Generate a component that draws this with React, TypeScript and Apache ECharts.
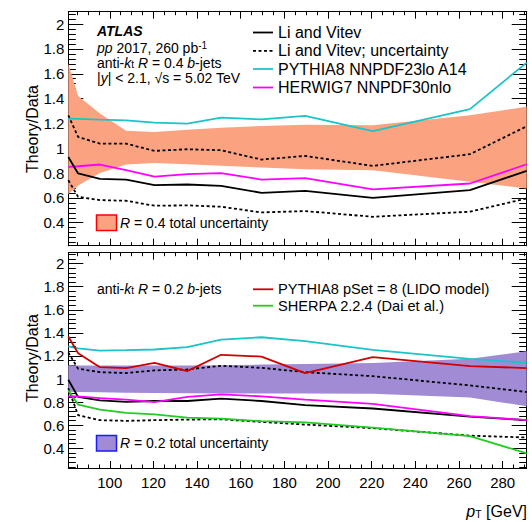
import React, { useEffect, useRef } from 'react';
import * as echarts from 'echarts';

// pT positions of the model points (GeV)
const ptPoints = [81, 85.5, 95.5, 107.5, 120.5, 135.5, 151, 169.5, 189.5, 220.5, 265, 291];

// ---- R = 0.4 panel ----
const liVitevR04 = [0.93, 0.797, 0.754, 0.748, 0.703, 0.708, 0.697, 0.641, 0.657, 0.601, 0.663, 0.818];
const liVitevUpR04 = [1.265, 1.091, 1.037, 1.037, 0.979, 0.992, 0.984, 0.909, 0.938, 0.858, 0.952, 1.177];
const liVitevLoR04 = [0.743, 0.609, 0.582, 0.577, 0.537, 0.54, 0.529, 0.483, 0.494, 0.448, 0.489, 0.596];
const pythiaR04 = [1.238, 1.236, 1.23, 1.225, 1.206, 1.198, 1.246, 1.233, 1.26, 1.137, 1.315, 1.69];
const herwigR04 = [0.85, 0.855, 0.869, 0.823, 0.772, 0.791, 0.799, 0.748, 0.759, 0.668, 0.716, 0.871];
const bandUpR04 = [1.68, 1.42, 1.28, 1.14, 1.13, 1.15, 1.165, 1.18, 1.19, 1.185, 1.265, 1.335];
const bandLoR04 = [0.63, 0.7, 0.8, 0.87, 0.882, 0.872, 0.86, 0.845, 0.83, 0.823, 0.73, 0.676];

// ---- R = 0.2 panel ----
const liVitevR02 = [0.994, 0.845, 0.816, 0.802, 0.81, 0.81, 0.83, 0.81, 0.775, 0.745, 0.675, 0.644];
const liVitevUpR02 = [1.23, 1.089, 1.06, 1.052, 1.075, 1.083, 1.115, 1.097, 1.06, 1.025, 0.945, 0.888];
const liVitevLoR02 = [0.92, 0.687, 0.644, 0.638, 0.644, 0.649, 0.652, 0.629, 0.606, 0.575, 0.51, 0.494];
const pythiaR02 = [1.282, 1.265, 1.247, 1.25, 1.256, 1.276, 1.342, 1.362, 1.328, 1.253, 1.175, 1.141];
const herwigR02 = [0.85, 0.85, 0.835, 0.822, 0.8, 0.845, 0.868, 0.85, 0.822, 0.785, 0.68, 0.644];
const lidoR02 = [1.368, 1.224, 1.103, 1.095, 1.141, 1.069, 1.21, 1.195, 1.052, 1.19, 1.112, 1.095];
const sherpaR02 = [0.902, 0.779, 0.736, 0.707, 0.695, 0.667, 0.658, 0.635, 0.625, 0.58, 0.506, 0.357];
const bandUpR02 = [1.12, 1.118, 1.118, 1.118, 1.118, 1.118, 1.12, 1.125, 1.13, 1.14, 1.175, 1.24];
const bandLoR02 = [0.89, 0.888, 0.885, 0.882, 0.88, 0.878, 0.876, 0.875, 0.875, 0.872, 0.84, 0.765];

const FONT = '"Liberation Sans", Arial, Helvetica, sans-serif';
const ORANGE = '#FBA380';
const PURPLE = '#A18BD5';
const CYAN = '#1CC3C8';
const MAGENTA = '#FF00FF';
const RED = '#D00000';
const GREEN = '#22CC22';

const pairs = (ys: number[]) => ptPoints.map((x, i) => [x, ys[i]]);

function lineSeries(name: string, ys: number[], color: string, axis: number, dashed = false) {
  return {
    name,
    type: 'line',
    xAxisIndex: axis,
    yAxisIndex: axis,
    data: pairs(ys),
    symbol: 'none',
    showSymbol: false,
    z: 3,
    lineStyle: { color, width: 1.8, type: dashed ? [3, 2.5] : 'solid' },
  };
}

function bandSeries(name: string, up: number[], lo: number[], color: string, axis: number) {
  return {
    name,
    type: 'custom',
    xAxisIndex: axis,
    yAxisIndex: axis,
    silent: true,
    clip: true,
    z: 1,
    encode: { x: 0, y: [1, 2] },
    data: ptPoints.map((x, i) => [x, lo[i], up[i]]),
    renderItem: (params: any, api: any) => {
      if (params.dataIndex !== 0) return { type: 'group', children: [] };
      const top = ptPoints.map((x, i) => api.coord([x, up[i]]));
      const bottom = ptPoints.map((x, i) => api.coord([x, lo[i]])).reverse();
      return {
        type: 'polygon',
        shape: { points: [...top, ...bottom] },
        style: { fill: color, stroke: 'none' },
      };
    },
  };
}

const xFormatter = (v: number) => (Math.abs(v - Math.round(v / 20) * 20) < 1e-6 ? String(Math.round(v)) : '');
const yFormatter = (v: number) => {
  const k = Math.round(v / 0.2);
  if (Math.abs(v - k * 0.2) > 1e-6 || k < 2) return '';
  return String(Math.round(v * 10) / 10);
};

function xAxis(gridIndex: number, position: string, labels: boolean) {
  return {
    type: 'value',
    gridIndex,
    position,
    min: 81,
    max: 291,
    splitNumber: 10,
    axisLine: { show: true, onZero: false, lineStyle: { color: '#000', width: 1 } },
    axisTick: { show: true, inside: true, length: 7, lineStyle: { color: '#000', width: 1 } },
    minorTick: { show: true, splitNumber: 4, length: 3.5, lineStyle: { color: '#000', width: 1 } },
    splitLine: { show: false },
    axisLabel: { show: labels, formatter: xFormatter, fontSize: 15, fontFamily: FONT, color: '#000', margin: 7 },
  };
}

function yAxis(gridIndex: number, position: string, labels: boolean, min: number, max: number) {
  return {
    type: 'value',
    gridIndex,
    position,
    min,
    max,
    splitNumber: 9,
    axisLine: { show: true, onZero: false, lineStyle: { color: '#000', width: 1 } },
    axisTick: { show: true, inside: true, length: 15, lineStyle: { color: '#000', width: 1 } },
    minorTick: { show: true, splitNumber: 5, length: 7.5, lineStyle: { color: '#000', width: 1 } },
    splitLine: { show: false },
    axisLabel: { show: labels, formatter: yFormatter, fontSize: 15, fontFamily: FONT, color: '#000', margin: 4 },
  };
}

function txt(x: number, y: number, text: string, size = 14, extra: any = {}) {
  return {
    type: 'text',
    x,
    y,
    z: 10,
    style: {
      text,
      fontSize: size,
      fontFamily: FONT,
      fill: '#000',
      verticalAlign: 'middle',
      align: 'left',
      rich: {
        i: { fontSize: size, fontFamily: FONT, fontStyle: 'italic' },
        sup: { fontSize: 10, fontFamily: FONT, lineHeight: 6, verticalAlign: 'top' },
        sub: { fontSize: 10, fontFamily: FONT, lineHeight: 6, verticalAlign: 'bottom' },
      },
      ...extra,
    },
  };
}

function sample(x1: number, x2: number, y: number, color: string, dashed = false) {
  return {
    type: 'line',
    z: 10,
    shape: { x1, y1: y, x2, y2: y },
    style: { stroke: color, lineWidth: 1.8, lineDash: dashed ? [3, 2.5] : null },
  };
}

function box(x: number, y: number, fill: string, stroke: string) {
  return {
    type: 'rect',
    z: 10,
    shape: { x, y, width: 20, height: 15.5 },
    style: { fill, stroke, lineWidth: 1.5 },
  };
}

export default function App() {
  const ref = useRef<HTMLDivElement>(null);

  useEffect(() => {
    if (!ref.current) return;
    const chart = echarts.init(ref.current, undefined, { renderer: 'svg' });
    const option: any = {
      animation: false,
      backgroundColor: '#fff',
      grid: [
        { left: 68.3, top: 11.7, width: 458.4, height: 234, containLabel: false },
        { left: 68.3, top: 252.7, width: 458.4, height: 215.3, containLabel: false },
      ],
      xAxis: [xAxis(0, 'bottom', false), xAxis(0, 'top', false), xAxis(1, 'bottom', true), xAxis(1, 'top', false)],
      yAxis: [
        yAxis(0, 'left', true, 0.215, 2.1),
        yAxis(0, 'right', false, 0.215, 2.1),
        yAxis(1, 'left', true, 0.23, 2.094),
        yAxis(1, 'right', false, 0.23, 2.094),
      ],
      series: [
        bandSeries('R = 0.4 total uncertainty', bandUpR04, bandLoR04, ORANGE, 0),
        lineSeries('Li and Vitev; uncertainty (up) R04', liVitevUpR04, '#000', 0, true),
        lineSeries('Li and Vitev; uncertainty (low) R04', liVitevLoR04, '#000', 0, true),
        lineSeries('PYTHIA8 NNPDF23lo A14 R04', pythiaR04, CYAN, 0),
        lineSeries('HERWIG7 NNPDF30nlo R04', herwigR04, MAGENTA, 0),
        lineSeries('Li and Vitev R04', liVitevR04, '#000', 0),

        bandSeries('R = 0.2 total uncertainty', bandUpR02, bandLoR02, PURPLE, 2),
        lineSeries('Li and Vitev; uncertainty (up) R02', liVitevUpR02, '#000', 2, true),
        lineSeries('Li and Vitev; uncertainty (low) R02', liVitevLoR02, '#000', 2, true),
        lineSeries('SHERPA 2.2.4 (Dai et al.)', sherpaR02, GREEN, 2),
        lineSeries('PYTHIA8 NNPDF23lo A14 R02', pythiaR02, CYAN, 2),
        lineSeries('Li and Vitev R02', liVitevR02, '#000', 2),
        lineSeries('HERWIG7 NNPDF30nlo R02', herwigR02, MAGENTA, 2),
        lineSeries('PYTHIA8 pSet = 8 (LIDO model)', lidoR02, RED, 2),
      ],
      graphic: [
        // top panel annotation
        txt(97, 31, 'ATLAS', 14, { fontWeight: 'bold', fontStyle: 'italic' }),
        txt(97, 47.5, '{i|pp} 2017, 260 pb{sup|-1}'),
        txt(97, 62.5, 'anti-{i|k}{sub|t} {i|R} = 0.4 {i|b}-jets'),
        txt(97, 77.5, '|{i|y}| < 2.1, √s = 5.02 TeV'),
        // top legend
        sample(253, 273, 32.5, '#000'),
        txt(278, 32.5, 'Li and Vitev', 16),
        sample(253, 273, 50.8, '#000', true),
        txt(278, 50.8, 'Li and Vitev; uncertainty', 16),
        sample(253, 273, 69, CYAN),
        txt(278, 69, 'PYTHIA8 NNPDF23lo A14', 16),
        sample(253, 273, 87.5, MAGENTA),
        txt(278, 87.5, 'HERWIG7 NNPDF30nlo', 16),
        box(96.5, 215, ORANGE, '#FF0000'),
        txt(120, 223, '{i|R} = 0.4 total uncertainty'),
        // bottom panel annotation
        txt(97, 288.5, 'anti-{i|k}{sub|t} {i|R} = 0.2 {i|b}-jets'),
        sample(253, 273, 289.3, RED),
        txt(278, 289.3, 'PYTHIA8 pSet = 8 (LIDO model)', 14.6),
        sample(253, 273, 305.7, GREEN),
        txt(278, 305.7, 'SHERPA 2.2.4 (Dai et al.)', 14.6),
        box(96.5, 435.5, PURPLE, '#1A1AFF'),
        txt(120, 443, '{i|R} = 0.2 total uncertainty'),
        // axis titles
        {
          type: 'text',
          x: 32,
          y: 129,
          rotation: Math.PI / 2,
          style: { text: 'Theory/Data', fontSize: 16, fontFamily: FONT, fill: '#000', align: 'center', verticalAlign: 'middle' },
        },
        {
          type: 'text',
          x: 32,
          y: 358,
          rotation: Math.PI / 2,
          style: { text: 'Theory/Data', fontSize: 16, fontFamily: FONT, fill: '#000', align: 'center', verticalAlign: 'middle' },
        },
        {
          type: 'text',
          x: 527,
          y: 511,
          style: {
            text: '{p|p}{sub|T} [GeV]',
            fontSize: 16,
            fontFamily: FONT,
            fill: '#000',
            align: 'right',
            verticalAlign: 'middle',
            rich: {
              p: { fontSize: 16, fontFamily: FONT, fontStyle: 'italic' },
              sub: { fontSize: 10.5, fontFamily: FONT, lineHeight: 6, verticalAlign: 'bottom' },
            },
          },
        },
      ],
    };
    chart.setOption(option);
    return () => chart.dispose();
  }, []);

  return (
    <div
      ref={ref}
      style={{ position: 'fixed', left: 0, top: 0, width: 532, height: 522, background: '#fff' }}
    />
  );
}
